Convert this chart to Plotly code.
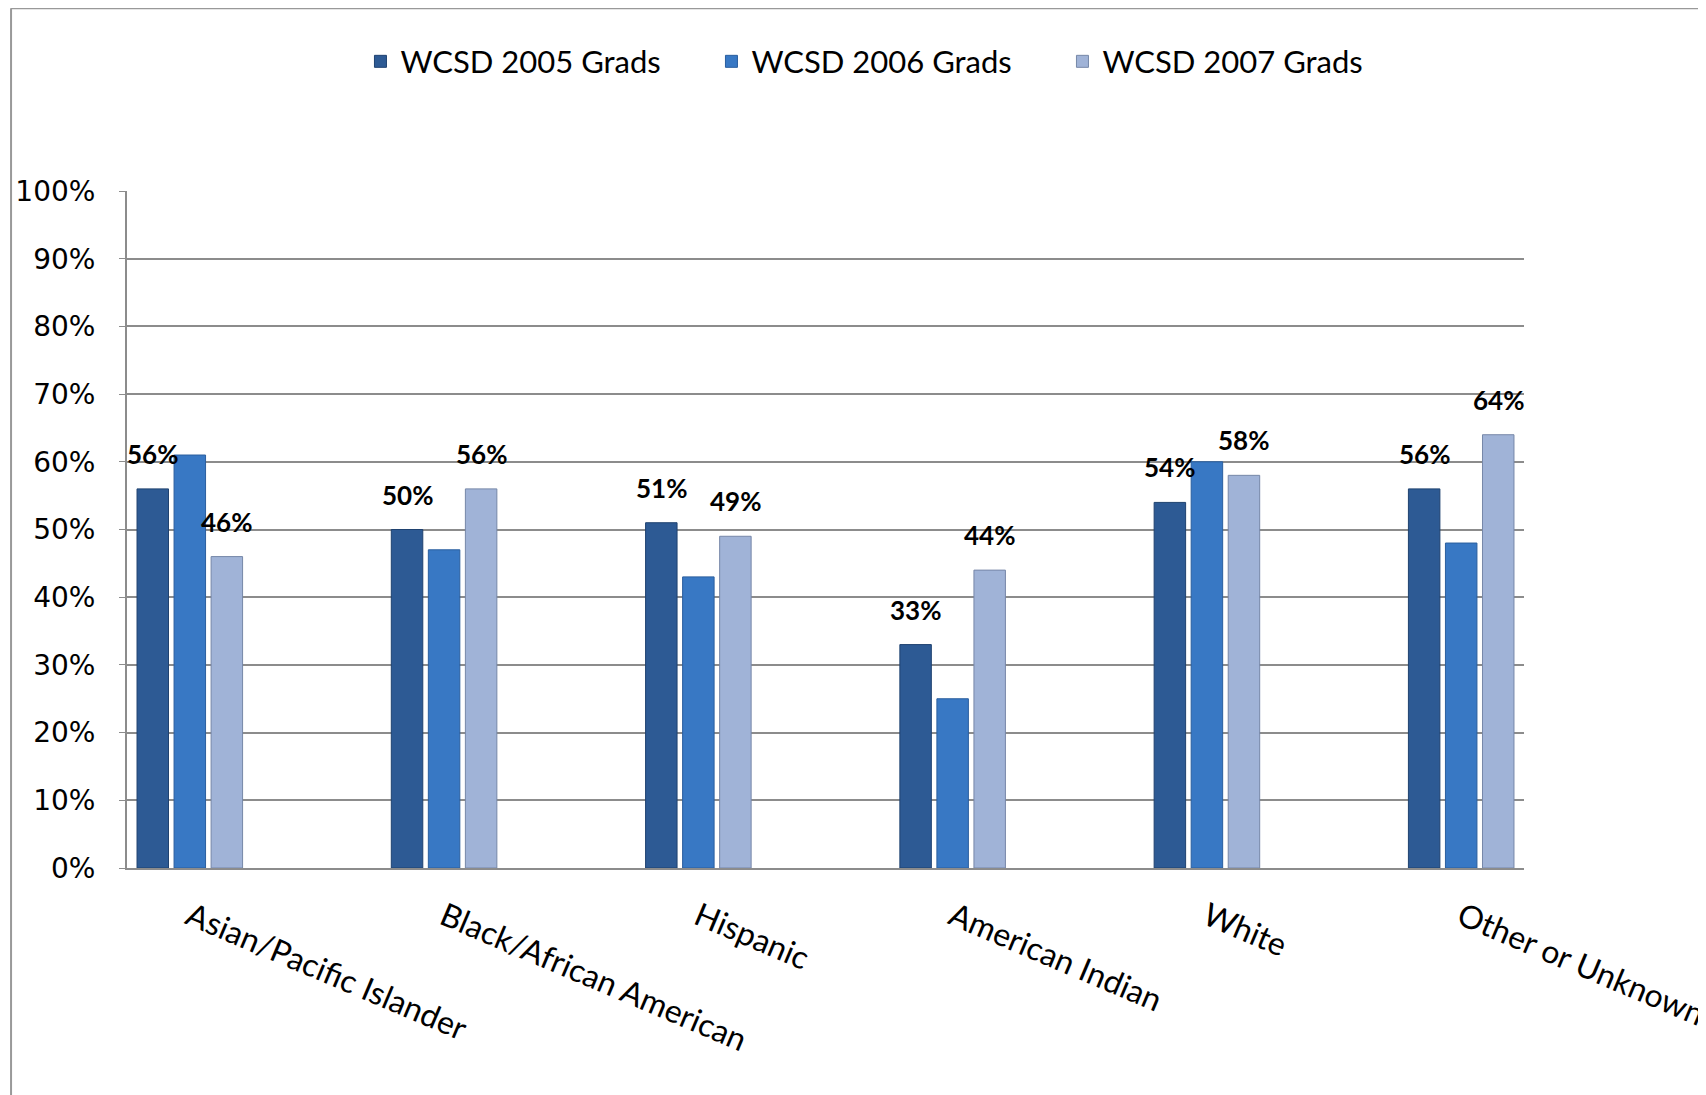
import plotly.graph_objects as go

categories = ["Asian/Pacific Islander", "Black/African American", "Hispanic",
              "American Indian", "White", "Other or Unknown"]
series_names = ["WCSD 2005 Grads", "WCSD 2006 Grads", "WCSD 2007 Grads"]
grads_2005 = [56, 50, 51, 33, 54, 56]
grads_2006 = [61, 47, 43, 25, 60, 48]
grads_2007 = [46, 56, 49, 44, 58, 64]
labelled = [True, False, True]  # only 2005 and 2007 carry data labels

colors = ["#2D5A94", "#3878C4", "#A0B3D7"]
line_colors = ["#1F4270", "#2A5E9E", "#7687A8"]

BARGAP = 0.563
FONT = "Lato"

fig = go.Figure()
all_series = [grads_2005, grads_2006, grads_2007]
for name, vals, col, lc in zip(series_names, all_series, colors, line_colors):
    fig.add_trace(go.Bar(
        x=categories, y=[v / 100 for v in vals], name=name,
        marker=dict(color=col, line=dict(color=lc, width=1)),
        hoverinfo="skip",
    ))

# data labels above bars (2005 and 2007 series)
slot = (1 - BARGAP) / 3
for k, (vals, show) in enumerate(zip(all_series, labelled)):
    if not show:
        continue
    for i, v in enumerate(vals):
        fig.add_annotation(
            x=i + (k - 1) * slot, y=v / 100, text=f"<b>{v}%</b>",
            showarrow=False, yanchor="bottom", yshift=17,
            font=dict(family=FONT, size=26, color="black"),
        )

# outer chart frame (top and left edges)
fig.add_shape(type="line", xref="paper", yref="paper", x0=-0.083, x1=1.14,
              y0=1.2698, y1=1.2698, line=dict(color="#999999", width=2))
fig.add_shape(type="line", xref="paper", yref="paper", x0=-0.083, x1=-0.083,
              y0=1.2698, y1=-0.34, line=dict(color="#999999", width=2))

fig.update_layout(
    width=1698, height=1087,
    margin=dict(l=119, r=182, t=183, b=227),
    plot_bgcolor="white", paper_bgcolor="white",
    barmode="group", bargap=BARGAP, bargroupgap=0.15,
    font=dict(family=FONT, color="black"),
    showlegend=True,
    legend=dict(orientation="h", x=0.544, xanchor="center", y=1.191, yanchor="middle",
                font=dict(family=FONT, size=31), entrywidth=306, itemwidth=30,
                traceorder="normal"),
    xaxis=dict(
        range=[-0.247, 5.247], tickangle=23, showgrid=False,
        showline=True, linecolor="#8c8c8c", linewidth=2,
        tickfont=dict(family=FONT, size=32), ticklabelstandoff=16,
        automargin=False,
    ),
    yaxis=dict(
        range=[0, 1], dtick=0.1, tickformat=".0%",
        showgrid=True, gridcolor="#8c8c8c", gridwidth=1.5,
        showline=True, linecolor="#8c8c8c", linewidth=2,
        ticks="outside", ticklen=6, tickcolor="#8c8c8c",
        tickfont=dict(family="DejaVu Sans", size=28), ticklabelstandoff=18,
        zeroline=False, automargin=False,
    ),
)

fig.write_html("out.html")
